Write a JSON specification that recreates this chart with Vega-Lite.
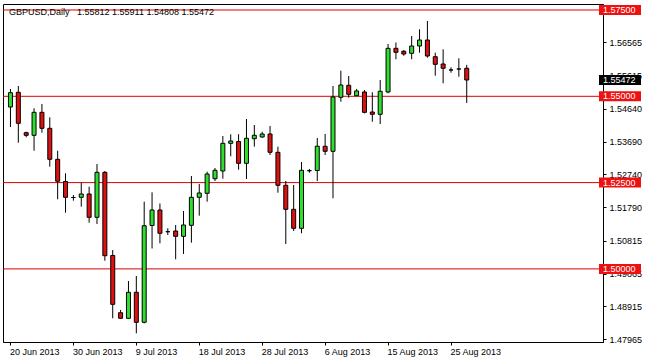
{
  "$schema": "https://vega.github.io/schema/vega-lite/v6.json",
  "width": 600,
  "height": 338,
  "autosize": {"type": "none"},
  "padding": {"left": 3, "top": 4, "right": 45, "bottom": 20},
  "background": "white",
  "config": {
    "font": "Liberation Sans",
    "view": {"stroke": "black", "strokeWidth": 1},
    "axis": {"grid": false, "domainColor": "black", "tickColor": "black", "labelColor": "black", "labelFont": "Liberation Sans", "labelFontSize": 9, "title": null, "labelOverlap": false}
  },
  "title": {
    "text": "GBPUSD,Daily\u00a0\u00a0\u00a01.55812 1.55911 1.54808 1.55472",
    "anchor": "start",
    "frame": "group",
    "orient": "top",
    "offset": -20,
    "baseline": "alphabetic",
    "dx": 6,
    "font": "Liberation Sans",
    "fontSize": 9,
    "fontWeight": "normal",
    "color": "black"
  },
  "datasets": {
    "candles": [
      {"i":0,"o":1.54690,"h":1.55211,"l":1.54111,"c":1.55104},
      {"i":1,"o":1.55116,"h":1.55298,"l":1.53656,"c":1.54218},
      {"i":2,"o":1.53946,"h":1.53974,"l":1.53812,"c":1.53870},
      {"i":3,"o":1.53870,"h":1.54652,"l":1.53424,"c":1.54536},
      {"i":4,"o":1.54536,"h":1.54777,"l":1.53946,"c":1.54073},
      {"i":5,"o":1.54073,"h":1.54392,"l":1.52961,"c":1.53175},
      {"i":6,"o":1.53175,"h":1.53424,"l":1.52016,"c":1.52538},
      {"i":7,"o":1.52532,"h":1.52769,"l":1.51628,"c":1.52074},
      {"i":8,"o":1.52068,"h":1.52141,"l":1.51976,"c":1.52068},
      {"i":9,"o":1.52074,"h":1.52497,"l":1.51802,"c":1.52170},
      {"i":10,"o":1.52170,"h":1.52381,"l":1.51338,"c":1.51495},
      {"i":11,"o":1.51495,"h":1.53039,"l":1.51301,"c":1.52798},
      {"i":12,"o":1.52798,"h":1.52836,"l":1.50237,"c":1.50382},
      {"i":13,"o":1.50388,"h":1.50547,"l":1.48569,"c":1.48974},
      {"i":14,"o":1.48731,"h":1.48809,"l":1.48560,"c":1.48569},
      {"i":15,"o":1.48569,"h":1.49649,"l":1.48560,"c":1.49322},
      {"i":16,"o":1.49322,"h":1.49794,"l":1.48134,"c":1.48453},
      {"i":17,"o":1.48453,"h":1.51947,"l":1.48424,"c":1.51251},
      {"i":18,"o":1.51257,"h":1.52219,"l":1.50591,"c":1.51706},
      {"i":19,"o":1.51706,"h":1.51894,"l":1.50741,"c":1.51031},
      {"i":20,"o":1.51078,"h":1.51176,"l":1.50982,"c":1.51078},
      {"i":21,"o":1.51098,"h":1.51272,"l":1.50278,"c":1.50944},
      {"i":22,"o":1.50944,"h":1.51677,"l":1.50432,"c":1.51272},
      {"i":23,"o":1.51263,"h":1.52691,"l":1.50759,"c":1.52074},
      {"i":24,"o":1.52074,"h":1.52459,"l":1.51541,"c":1.52199},
      {"i":25,"o":1.52190,"h":1.52816,"l":1.51947,"c":1.52749},
      {"i":26,"o":1.52613,"h":1.52923,"l":1.52546,"c":1.52856},
      {"i":27,"o":1.52836,"h":1.53850,"l":1.52613,"c":1.53638},
      {"i":28,"o":1.53638,"h":1.53899,"l":1.53262,"c":1.53705},
      {"i":29,"o":1.53691,"h":1.53902,"l":1.52874,"c":1.53059},
      {"i":30,"o":1.53059,"h":1.54342,"l":1.52604,"c":1.53783},
      {"i":31,"o":1.53772,"h":1.54169,"l":1.53540,"c":1.53870},
      {"i":32,"o":1.53821,"h":1.53974,"l":1.53801,"c":1.53908},
      {"i":33,"o":1.53908,"h":1.54140,"l":1.53299,"c":1.53378},
      {"i":34,"o":1.53378,"h":1.53540,"l":1.52207,"c":1.52422},
      {"i":35,"o":1.52422,"h":1.52546,"l":1.50722,"c":1.51726},
      {"i":36,"o":1.51726,"h":1.52430,"l":1.51098,"c":1.51176},
      {"i":37,"o":1.51176,"h":1.53097,"l":1.51031,"c":1.52856},
      {"i":38,"o":1.52845,"h":1.52894,"l":1.52787,"c":1.52845},
      {"i":39,"o":1.52850,"h":1.53792,"l":1.52546,"c":1.53554},
      {"i":40,"o":1.53552,"h":1.53908,"l":1.53299,"c":1.53407},
      {"i":41,"o":1.53407,"h":1.55298,"l":1.52045,"c":1.54980},
      {"i":42,"o":1.54971,"h":1.55742,"l":1.54844,"c":1.55327},
      {"i":43,"o":1.55319,"h":1.55588,"l":1.54959,"c":1.55058},
      {"i":44,"o":1.55017,"h":1.55211,"l":1.55009,"c":1.55154},
      {"i":45,"o":1.55125,"h":1.55182,"l":1.54507,"c":1.54536},
      {"i":46,"o":1.54545,"h":1.55116,"l":1.54264,"c":1.54479},
      {"i":47,"o":1.54479,"h":1.55472,"l":1.54198,"c":1.55145},
      {"i":48,"o":1.55125,"h":1.56515,"l":1.55087,"c":1.56390},
      {"i":49,"o":1.56390,"h":1.56559,"l":1.56072,"c":1.56275},
      {"i":50,"o":1.56304,"h":1.56341,"l":1.56176,"c":1.56225},
      {"i":51,"o":1.56246,"h":1.56747,"l":1.56072,"c":1.56457},
      {"i":52,"o":1.56457,"h":1.56941,"l":1.56263,"c":1.56631},
      {"i":53,"o":1.56631,"h":1.57181,"l":1.56118,"c":1.56167},
      {"i":54,"o":1.56147,"h":1.56263,"l":1.55597,"c":1.55927},
      {"i":55,"o":1.55936,"h":1.56362,"l":1.55377,"c":1.55811},
      {"i":56,"o":1.55762,"h":1.55840,"l":1.55684,"c":1.55762},
      {"i":57,"o":1.55791,"h":1.56101,"l":1.55568,"c":1.55791},
      {"i":58,"o":1.55812,"h":1.55911,"l":1.54808,"c":1.55472}
    ],
    "levels": [{"p":1.575},{"p":1.55},{"p":1.525},{"p":1.5}],
    "last": [{"p":1.55472}]
  },
  "layer": [
    {
      "data": {"name": "levels"},
      "mark": {"type": "rule", "color": "#dd0000", "strokeWidth": 1},
      "encoding": {
        "y": {"field": "p", "type": "quantitative", "scale": {"domain": [1.478824, 1.576738], "zero": false, "nice": false},
          "axis": {"orient": "right", "values": [1.56565,1.55615,1.5464,1.5369,1.5274,1.5179,1.50815,1.49865,1.48915,1.47965], "tickCount": 20, "format": ".5f", "tickSize": 3, "labelPadding": 3, "domain": true, "labelOverlap": false, "labelFlush": false}}
      }
    },
    {
      "data": {"name": "candles"},
      "mark": {"type": "rule", "color": "black", "strokeWidth": 1},
      "encoding": {
        "x": {"field": "i", "type": "quantitative", "scale": {"domain": [-0.3125, 74.6875], "nice": false, "zero": false},
          "axis": {"values": [0,8,16,24,32,40,48,56], "tickCount": 20, "labelExpr": "['20 Jun 2013','30 Jun 2013','9 Jul 2013','18 Jul 2013','28 Jul 2013','6 Aug 2013','15 Aug 2013','25 Aug 2013'][round(datum.value/8)]", "labelAlign": "left", "labelOffset": -1, "labelBaseline": "top", "tickSize": 3, "labelPadding": 2, "labelFlush": false, "labelOverlap": false}},
        "y": {"field": "l", "type": "quantitative"},
        "y2": {"field": "h"}
      }
    },
    {
      "data": {"name": "candles"},
      "mark": {"type": "bar", "width": 4, "stroke": "black", "strokeWidth": 1},
      "encoding": {
        "x": {"field": "i", "type": "quantitative"},
        "y": {"field": "o", "type": "quantitative"},
        "y2": {"field": "c"},
        "color": {"condition": {"test": "datum.c > datum.o", "value": "#2ee02e"}, "value": "#e01010"}
      }
    },
    {
      "data": {"name": "levels"},
      "mark": {"type": "point", "shape": "M-1,-0.238L1,-0.238L1,0.238L-1,0.238Z", "size": 1764, "filled": true, "opacity": 1, "color": "#ee1111", "strokeWidth": 0, "xOffset": 22},
      "encoding": {
        "x": {"datum": 74.6875, "type": "quantitative"},
        "y": {"field": "p", "type": "quantitative"}
      }
    },
    {
      "data": {"name": "last"},
      "mark": {"type": "point", "shape": "M-1,-0.238L1,-0.238L1,0.238L-1,0.238Z", "size": 1764, "filled": true, "opacity": 1, "color": "black", "strokeWidth": 0, "xOffset": 22},
      "encoding": {
        "x": {"datum": 74.6875, "type": "quantitative"},
        "y": {"field": "p", "type": "quantitative"}
      }
    },
    {
      "data": {"name": "levels"},
      "mark": {"type": "text", "align": "left", "baseline": "middle", "dx": 5, "color": "white", "font": "Liberation Sans", "fontSize": 9},
      "encoding": {
        "x": {"datum": 74.6875, "type": "quantitative"},
        "y": {"field": "p", "type": "quantitative"},
        "text": {"field": "p", "type": "quantitative", "format": ".5f"}
      }
    },
    {
      "data": {"name": "last"},
      "mark": {"type": "text", "align": "left", "baseline": "middle", "dx": 5, "color": "white", "font": "Liberation Sans", "fontSize": 9},
      "encoding": {
        "x": {"datum": 74.6875, "type": "quantitative"},
        "y": {"field": "p", "type": "quantitative"},
        "text": {"field": "p", "type": "quantitative", "format": ".5f"}
      }
    }
  ]
}
